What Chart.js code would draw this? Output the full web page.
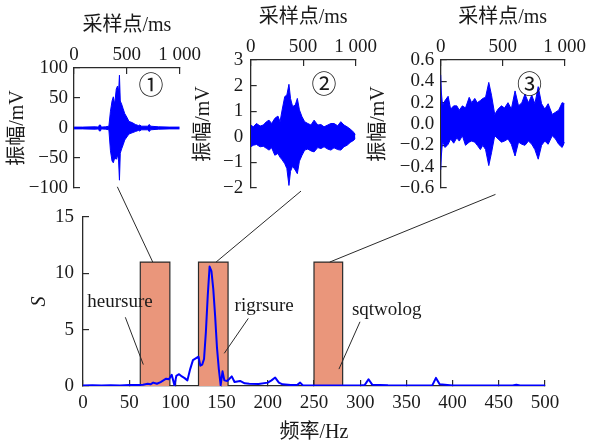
<!DOCTYPE html>
<html>
<head>
<meta charset="utf-8">
<script src="https://cdn.jsdelivr.net/npm/chart.js"></script>
<style>
  body { margin: 0; background: #fff; }
  #wrap { position: relative; width: 594px; height: 444px; }
  #wrap canvas { position: absolute; left: 0; top: 0; }
</style>
</head>
<body>
<div id="wrap">
  <canvas id="spectrum" width="594" height="444"></canvas>
  <canvas id="wave1" width="594" height="444"></canvas>
  <canvas id="wave2" width="594" height="444"></canvas>
  <canvas id="wave3" width="594" height="444"></canvas>
</div>
<script>
// spectrum S(f)
const freqHz = [0, 10, 20, 30, 40, 50, 60, 65, 70, 73,
  76, 80, 84, 87, 90, 93, 96, 99, 101, 104,
  107, 110, 113, 116, 119, 122, 125, 127, 129, 131,
  133, 135, 137, 139, 141, 143, 145, 147, 149, 151,
  153, 156, 158, 161, 164, 167, 170, 175, 180, 190,
  200, 204, 208, 212, 216, 225, 232, 235, 238, 250,
  275, 300, 305, 309, 313, 330, 360, 378, 382, 386,
  400, 450, 465, 469, 473, 500];
const spectrumS = [0.05, 0.06, 0.05, 0.07, 0.05, 0.08, 0.08, 0.12, 0.2, 0.15,
  0.3, 0.2, 0.35, 0.5, 0.65, 0.6, 1.0, 0.05, 0.9, 1.05,
  0.85, 0.7, 0.5, 1.5, 2.3, 2.45, 2.6, 1.8, 1.9, 2.4,
  4.8, 8.0, 10.6, 10.2, 8.6, 6.2, 3.4, 1.5, 0.05, 1.3,
  0.5, 0.45, 0.6, 0.85, 0.35, 0.4, 0.45, 0.24, 0.2, 0.18,
  0.3, 0.5, 0.75, 0.3, 0.15, 0.08, 0.1, 0.3, 0.05, 0.04,
  0.04, 0.04, 0.1, 0.6, 0.12, 0.06, 0.05, 0.06, 0.72, 0.15,
  0.05, 0.04, 0.05, 0.12, 0.05, 0.04];

// frequency bands picked by each threshold rule
const bandNames = ['heursure', 'rigrsure', 'sqtwolog'];
const bandStart = [62, 125, 250];
const bandEnd = [94, 157, 281];
const bandHeight = [11, 11, 11];

// time signals (envelope of the denoised waveform), ms / mV
const wave1Time = [0, 80, 200, 232, 240, 250, 258, 300, 330, 345, 360,
  372, 385, 400, 412, 422, 430, 438, 450, 465, 480,
  500, 520, 550, 580, 610, 620, 640, 700, 712, 725, 800, 900, 1000];
const wave1Upper = [1.5, 1.5, 2, 1.5, 5, 5, 1.5, 2, 3, 28, 45,
  52, 40, 65, 70, 60, 88, 45, 40, 32, 24,
  18, 11, 9, 6, 4, 5, 3, 3, 6, 3, 2, 1.5, 1.5];
const wave1Lower = [-1.5, -1.5, -2, -1.5, -5, -5, -1.5, -2, -3, -38, -55,
  -58, -50, -52, -45, -55, -87, -42, -35, -28, -20,
  -15, -10, -8, -6, -4, -5, -3, -3, -6, -3, -2, -1.5, -1.5];

const wave2Time = [0, 25, 55, 90, 120, 150, 175, 200, 230, 260,
  280, 300, 325, 345, 365, 380, 400, 425, 445, 465,
  490, 515, 545, 575, 605, 640, 670, 700, 735, 765,
  795, 830, 860, 890, 920, 950, 985, 1000];
const wave2Upper = [0.46, 0.39, 0.52, 0.42, 0.46, 0.59, 0.65, 0.52, 0.72, 0.81,
  0.59, 1.05, 1.57, 1.63, 2.05, 1.5, 1.18, 1.24, 1.5, 1.05,
  0.78, 0.59, 0.52, 0.46, 0.65, 0.46, 0.48, 0.39, 0.46, 0.52,
  0.52, 0.43, 0.59, 0.46, 0.39, 0.3, 0.17, 0.07];
const wave2Lower = [-0.39, -0.33, -0.3, -0.39, -0.37, -0.45, -0.52, -0.43, -0.72, -0.65,
  -0.8, -0.9, -1.05, -1.24, -1.9, -1.35, -1.15, -1.3, -1.44, -0.95,
  -0.72, -0.52, -0.48, -0.55, -0.59, -0.42, -0.46, -0.39, -0.48, -0.52,
  -0.43, -0.5, -0.52, -0.39, -0.33, -0.22, -0.13, -0.04];

const wave3Time = [0, 5, 15, 35, 60, 80, 105, 130, 150, 175,
  200, 230, 250, 275, 295, 320, 340, 362, 388, 410,
  436, 463, 490, 515, 543, 570, 600, 628, 655, 680,
  708, 735, 760, 787, 814, 840, 867, 900, 926, 952,
  980, 1000];
const wave3Upper = [0.46, 0.3, 0.17, 0.22, 0.26, 0.14, 0.17, 0.17, 0.13, 0.17,
  0.15, 0.25, 0.2, 0.24, 0.2, 0.22, 0.24, 0.25, 0.39, 0.27,
  0.09, 0.14, 0.17, 0.15, 0.2, 0.14, 0.31, 0.17, 0.2, 0.28,
  0.2, 0.27, 0.19, 0.35, 0.19, 0.14, 0.19, 0.09, 0.11, 0.13,
  0.2, 0.19];
const wave3Lower = [-0.43, -0.3, -0.16, -0.22, -0.19, -0.14, -0.18, -0.13, -0.16, -0.11,
  -0.2, -0.17, -0.16, -0.17, -0.2, -0.24, -0.2, -0.24, -0.39, -0.27,
  -0.11, -0.14, -0.17, -0.16, -0.14, -0.19, -0.3, -0.17, -0.19, -0.2,
  -0.16, -0.19, -0.24, -0.33, -0.2, -0.16, -0.19, -0.11, -0.14, -0.19,
  -0.22, -0.17];

// sample axis ticks shared by the three panels
const sampleTicks = [0, 500, 1000];
const sampleTickText = ['0', '500', '1 000'];

const serif = '"Liberation Serif", "Noto Sans CJK SC", serif';
const ink = '#1a1a1a';
const axisInk = '#2a2a2a';
const blue = '#0000ff';

const minus = v => String(v).replace('-', '\u2212');

function buildPanel(id, place, time, upper, lower, yAxis, mark) {
  const circled = {
    id: 'circled',
    afterDraw(chart) {
      const { ctx, scales: { x, y } } = chart;
      ctx.save();
      ctx.font = '25px "Noto Sans CJK SC"';
      ctx.fillStyle = ink;
      ctx.textAlign = 'center';
      ctx.textBaseline = 'middle';
      ctx.fillText(mark.text, x.getPixelForValue(mark.ms), y.getPixelForValue(mark.value));
      ctx.restore();
    }
  };
  return new Chart(document.getElementById(id), {
    type: 'line',
    data: {
      datasets: [
        {
          data: time.map((t, i) => ({ x: t, y: upper[i] })),
          borderColor: blue, backgroundColor: blue, borderWidth: 1,
          pointRadius: 0, fill: '+1', borderJoinStyle: 'bevel'
        },
        {
          data: time.map((t, i) => ({ x: t, y: lower[i] })),
          borderColor: blue, borderWidth: 1,
          pointRadius: 0, fill: false, borderJoinStyle: 'bevel'
        }
      ]
    },
    options: {
      responsive: false,
      animation: false,
      layout: { padding: { left: place.axisLeft, top: 0, right: 594 - place.right, bottom: 444 - place.bottom } },
      plugins: { legend: { display: false }, tooltip: { enabled: false } },
      scales: {
        x: {
          type: 'linear', position: 'top', min: 0, max: 1000,
          afterFit: s => { s.height = place.top; },
          afterBuildTicks: s => { s.ticks = sampleTicks.map(v => ({ value: v })); },
          ticks: {
            padding: 8, color: ink, autoSkip: false, maxRotation: 0,
            font: { family: serif, size: 19 },
            callback: v => sampleTickText[sampleTicks.indexOf(v)]
          },
          grid: { drawOnChartArea: false, tickLength: -6, color: axisInk, lineWidth: 1.2 },
          border: { color: axisInk, width: 1.3 },
          title: {
            display: true, text: '采样点/ms', color: ink,
            font: { family: serif, size: 20 }, padding: { top: place.top - 54, bottom: 0 }
          }
        },
        y: {
          min: yAxis.min, max: yAxis.max,
          afterFit: s => { s.width = place.left - place.axisLeft; },
          ticks: {
            stepSize: yAxis.step, padding: yAxis.pad, color: ink, autoSkip: false,
            font: { family: serif, size: 19 },
            callback: v => minus(Number(v).toFixed(yAxis.digits))
          },
          grid: { drawOnChartArea: false, tickLength: -6, color: axisInk, lineWidth: 1.2 },
          border: { color: axisInk, width: 1.3 },
          title: {
            display: true, text: '振幅/mV', color: ink,
            font: { family: serif, size: 20 }, padding: { top: 5.5, bottom: 0 }
          }
        }
      }
    },
    plugins: [circled]
  });
}

const panels = [
  buildPanel('wave1', { axisLeft: 0, left: 74, right: 179.7, top: 68, bottom: 188 },
    wave1Time, wave1Upper, wave1Lower,
    { min: -100, max: 100, step: 50, digits: 0, pad: 12 },
    { text: '①', ms: 728, value: 72 }),
  buildPanel('wave2', { axisLeft: 186.5, left: 250.7, right: 355.5, top: 60, bottom: 188 },
    wave2Time, wave2Upper, wave2Lower,
    { min: -2, max: 3, step: 1, digits: 0, pad: 13.5 },
    { text: '②', ms: 700, value: 2.08 }),
  buildPanel('wave3', { axisLeft: 361, left: 440.7, right: 568, top: 60, bottom: 188 },
    wave3Time, wave3Upper, wave3Lower,
    { min: -0.6, max: 0.6, step: 0.2, digits: 1, pad: 12.5 },
    { text: '③', ms: 717, value: 0.38 })
];

// where each connector leaves the band top (Hz) and meets its panel (ms, mV)
const connectorFoot = [75.5, 144, 267];
const connectorHead = [[410, -98], [480, -2.12], [442, -0.66]];

// rule names with their leader lines, in spectrum units
const methodLabels = [
  { x: 40, y: 7.0, from: [45.8, 6.1], to: [65.3, 1.9] },
  { x: 196, y: 6.7, from: [178.9, 6.0], to: [152.9, 2.9] },
  { x: 328.7, y: 6.3, from: [299.8, 5.7], to: [277, 1.5] }
];

const overlay = {
  id: 'overlay',
  afterDraw(chart) {
    const { ctx, scales: { x, y } } = chart;
    ctx.save();
    ctx.strokeStyle = axisInk;
    ctx.lineWidth = 1;
    panels.forEach((p, i) => {
      ctx.beginPath();
      ctx.moveTo(x.getPixelForValue(connectorFoot[i]), y.getPixelForValue(bandHeight[i]));
      ctx.lineTo(p.scales.x.getPixelForValue(connectorHead[i][0]), p.scales.y.getPixelForValue(connectorHead[i][1]));
      ctx.stroke();
    });
    ctx.font = '19px ' + serif;
    ctx.fillStyle = ink;
    ctx.textAlign = 'center';
    ctx.textBaseline = 'alphabetic';
    methodLabels.forEach((m, i) => {
      ctx.fillText(bandNames[i], x.getPixelForValue(m.x), y.getPixelForValue(m.y));
      ctx.beginPath();
      ctx.moveTo(x.getPixelForValue(m.from[0]), y.getPixelForValue(m.from[1]));
      ctx.lineTo(x.getPixelForValue(m.to[0]), y.getPixelForValue(m.to[1]));
      ctx.stroke();
    });
    ctx.restore();
  }
};

new Chart(document.getElementById('spectrum'), {
  type: 'line',
  data: {
    datasets: [
      {
        data: freqHz.map((f, i) => ({ x: f, y: spectrumS[i] })),
        borderColor: blue, borderWidth: 2, pointRadius: 0, fill: false,
        borderJoinStyle: 'round', order: 0
      },
      ...bandStart.map((s, i) => ({
        data: [
          { x: s, y: 0 }, { x: s, y: bandHeight[i] },
          { x: bandEnd[i], y: bandHeight[i] }, { x: bandEnd[i], y: 0 }
        ],
        borderColor: axisInk, borderWidth: 1.2, backgroundColor: '#ea967b',
        fill: 'origin', pointRadius: 0, order: 1
      }))
    ]
  },
  options: {
    responsive: false,
    animation: false,
    layout: { padding: { left: 0, top: 217, right: 49, bottom: 0 } },
    plugins: { legend: { display: false }, tooltip: { enabled: false } },
    scales: {
      x: {
        type: 'linear', min: 0, max: 500,
        afterFit: s => { s.height = 58; },
        ticks: {
          stepSize: 50, padding: 12, color: ink, autoSkip: false, maxRotation: 0,
          font: { family: serif, size: 19 }
        },
        grid: { drawOnChartArea: false, tickLength: -6, color: axisInk, lineWidth: 1.2 },
        border: { color: axisInk, width: 1.3 },
        title: {
          display: true, text: '频率/Hz', color: ink,
          font: { family: serif, size: 20, lineHeight: 1.1 }, padding: { top: 0, bottom: 0 }
        }
      },
      y: {
        min: 0, max: 15,
        afterFit: s => { s.width = 83; },
        ticks: { stepSize: 5, padding: 15, color: ink, autoSkip: false, font: { family: serif, size: 19 } },
        grid: { drawOnChartArea: false, tickLength: -6, color: axisInk, lineWidth: 1.2 },
        border: { color: axisInk, width: 1.3 },
        title: {
          display: true, text: 'S', color: ink,
          font: { family: serif, size: 20, style: 'italic' }, padding: { top: 28, bottom: 0 }
        }
      }
    }
  },
  plugins: [overlay]
});
</script>
</body>
</html>
